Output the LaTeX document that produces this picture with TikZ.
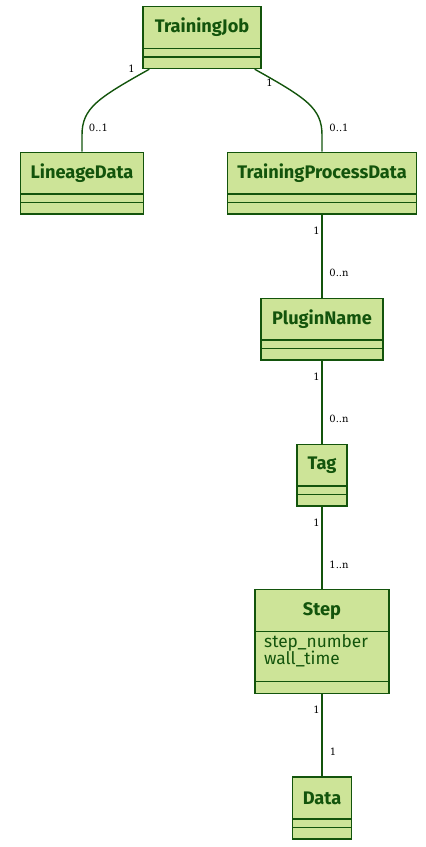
\documentclass[tikz,border=0pt]{standalone}
\usepackage{fontspec}
\setmainfont{Fira Sans}
\newfontfamily\lblfont{DejaVu Serif}
\usetikzlibrary{calc}
\definecolor{cfill}{HTML}{CDE498}
\definecolor{cline}{HTML}{13540C}
\newcommand\umlclass[8]{%
  \node[cls, minimum width={(#4)-(#2)}, minimum height={(#5)-(#3)}] (#1) at ({((#2)+(#4))/2},{((#3)+(#5))/2}) {};
  \draw[divl] (#2,#6) -- (#4,#6);
  \draw[divl] (#2,#7) -- (#4,#7);
  \node[ttl] (#1-t) at ({((#2)+(#4))/2},{((#3)+(#6))/2}) {#8};
}
\begin{document}
\begin{tikzpicture}[x=1pt,y=-1pt,
  cls/.style={draw=cline, fill=cfill, line width=1.4pt, inner sep=0pt},
  divl/.style={draw=cline, line width=1.4pt},
  ttl/.style={text=cline, font=\fontsize{18.2}{20}\selectfont\bfseries, inner sep=0pt},
  attr/.style={text=cline, font=\fontsize{17.3}{17.5}\selectfont, inner sep=0pt, anchor=west, align=left},
  conn/.style={draw=cline, line width=1.4pt},
  lbl/.style={text=black, font=\lblfont\fontsize{10}{11}\selectfont, inner sep=0pt}]
\useasboundingbox (0,0) rectangle (426,847);
\umlclass{job}{143}{6.5}{261}{68.5}{48.5}{57}{TrainingJob}
\umlclass{lin}{20.7}{152.3}{143.3}{214}{194}{202.3}{LineageData}
\umlclass{tpd}{227.3}{152.3}{416.7}{214}{194}{202.3}{TrainingProcessData}
\umlclass{plg}{261}{298.3}{383}{360}{340}{348.3}{PluginName}
\umlclass{tag}{297}{444.3}{347}{506}{486}{494.3}{Tag}
\umlclass{stp}{255}{589.5}{389}{693.3}{631.7}{681.7}{Step}
\umlclass{dat}{292.7}{777}{351.3}{839}{819}{827.7}{Data}
\node[attr] (a1) at (264,650.5) {step\_number\\wall\_time};
% connectors
\coordinate (j1) at ([xshift=7pt]job.south west);
\coordinate (j2) at ([xshift=-7pt]job.south east);
\draw[conn] (j1) .. controls (98,98) and (82,108) .. (82,135) -- (lin.north);
\draw[conn] (j2) .. controls (306,98) and (322,108) .. (322,135) -- (tpd.north);
\draw[conn] (tpd.south) -- (plg.north);
\draw[conn] (plg.south) -- (tag.north);
\draw[conn] (tag.south) -- (stp.north);
\draw[conn] (stp.south) -- (dat.north);
% labels
\node[lbl] (l1) at (131.5,68.5) {1};
\node[lbl] (l2) at (98.5,127.5) {0..1};
\node[lbl] (l3) at (269.5,83) {1};
\node[lbl] (l4) at (339,127.5) {0..1};
\node[lbl] (l5) at (316.5,231) {1};
\node[lbl] (l6) at (339,272.5) {0..n};
\node[lbl] (l7) at (316.5,377) {1};
\node[lbl] (l8) at (339,419) {0..n};
\node[lbl] (l9) at (316.5,523) {1};
\node[lbl] (l10) at (339,565) {1..n};
\node[lbl] (l11) at (316.5,710) {1};
\node[lbl] (l12) at (333,751.5) {1};
\end{tikzpicture}
\end{document}
